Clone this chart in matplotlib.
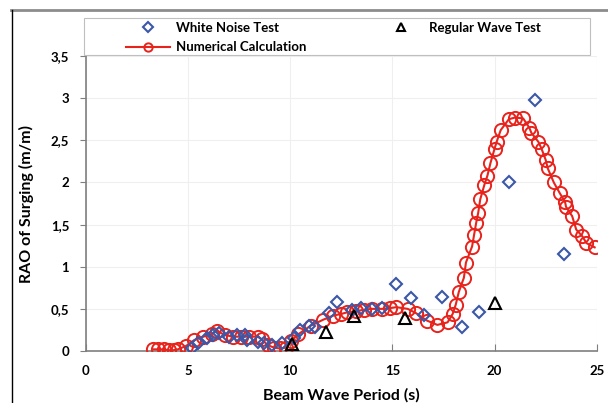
import matplotlib.pyplot as plt
from matplotlib.lines import Line2D
from matplotlib.patches import Rectangle
from matplotlib.ticker import FuncFormatter

# RAO of surging vs beam wave period
num_x = [3.3, 3.55, 3.8, 4.05, 4.3, 4.5, 4.9, 5.3, 5.75, 6.15, 6.4, 6.8, 7.2, 7.6,
         8.0, 8.4, 8.6, 8.9, 9.2, 9.5, 9.8, 10.05, 10.4, 11.0, 11.6, 12.1, 12.5,
         12.8, 13.2, 13.6, 14.0, 14.5, 14.9, 15.2, 15.75, 16.15, 16.7, 17.2, 17.7,
         17.95, 18.1, 18.25, 18.5, 18.6, 18.9, 19.0, 19.1, 19.2, 19.3, 19.5, 19.65,
         19.8, 20.0, 20.1, 20.3, 20.7, 21.0, 21.4, 21.7, 21.8, 22.15, 22.3, 22.5,
         22.6, 22.9, 23.2, 23.45, 23.5, 23.8, 24.0, 24.3, 24.5, 24.9]
num_y = [0.02, 0.02, 0.02, 0.01, 0.01, 0.02, 0.06, 0.13, 0.17, 0.20, 0.24, 0.19,
         0.17, 0.17, 0.17, 0.17, 0.14, 0.07, 0.04, 0.03, 0.04, 0.12, 0.20, 0.30,
         0.37, 0.42, 0.44, 0.46, 0.47, 0.49, 0.50, 0.50, 0.51, 0.52, 0.50, 0.45,
         0.36, 0.31, 0.34, 0.44, 0.55, 0.70, 0.87, 1.05, 1.24, 1.38, 1.52, 1.64,
         1.80, 1.97, 2.08, 2.23, 2.40, 2.48, 2.62, 2.75, 2.77, 2.76, 2.65, 2.59,
         2.48, 2.40, 2.27, 2.17, 2.00, 1.87, 1.77, 1.71, 1.60, 1.44, 1.36, 1.28,
         1.23]

wn_x = [5.2, 5.5, 5.9, 6.2, 6.5, 7.0, 7.4, 7.8, 7.9, 8.4, 8.7, 9.1, 9.6, 10.2,
        10.5, 10.9, 11.2, 11.9, 12.3, 13.0, 13.45, 14.0, 14.5, 15.2, 15.9, 16.55,
        17.45, 18.4, 19.25, 20.7, 22.0, 23.4]
wn_y = [0.03, 0.10, 0.16, 0.19, 0.21, 0.17, 0.19, 0.19, 0.13, 0.11, 0.09, 0.07,
        0.09, 0.16, 0.25, 0.30, 0.29, 0.45, 0.58, 0.49, 0.51, 0.50, 0.51, 0.80,
        0.63, 0.43, 0.64, 0.28, 0.46, 2.00, 2.98, 1.15]

rw_x = [10.1, 11.75, 13.1, 15.6, 20.0]
rw_y = [0.08, 0.23, 0.41, 0.39, 0.57]

y_ticks = [0, 0.5, 1, 1.5, 2, 2.5, 3, 3.5]
x_ticks = [0, 5, 10, 15, 20, 25]

red = '#e8231c'
blue = '#3b57a8'
plt.rcParams['font.family'] = ['Lato', 'DejaVu Sans']

W, H = 608, 403
fig = plt.figure(figsize=(W / 100, H / 100), dpi=100)
ax = fig.add_axes([0.1414, 0.129, 0.840, 0.732])

ax.plot(num_x, num_y, color=red, lw=1.5, marker='o', ms=9.5, mfc='none',
        mec=red, mew=1.4, zorder=3)
ax.plot(wn_x, wn_y, ls='none', marker='D', ms=6.5, mfc='none', mec=blue,
        mew=1.5, zorder=4)
ax.plot(rw_x, rw_y, ls='none', marker='^', ms=9, mfc='none', mec='black',
        mew=1.5, zorder=5)

ax.set_xlim(0, 25)
ax.set_ylim(0, 3.5)
ax.set_xticks(x_ticks)
ax.set_yticks(y_ticks)
ax.yaxis.set_major_formatter(FuncFormatter(lambda v, p: f'{v:g}'.replace('.', ',')))
ax.grid(True, color='#efefef', lw=0.8)
ax.set_axisbelow(True)

for s in ['top', 'right']:
    ax.spines[s].set_visible(False)
for s in ['left', 'bottom']:
    ax.spines[s].set_color('#7f7f7f')
    ax.spines[s].set_linewidth(1.2)
ax.tick_params(axis='y', direction='out', length=4, color='#7f7f7f',
               labelsize=9.5, pad=8)
ax.tick_params(axis='x', direction='in', length=5, color='#7f7f7f',
               labelsize=9.5, pad=10)
for lab in ax.get_xticklabels() + ax.get_yticklabels():
    lab.set_fontweight('bold')

ax.set_xlabel('Beam Wave Period (s)', fontsize=11.5, fontweight='bold', labelpad=8)
ax.set_ylabel('RAO of Surging (m/m)', fontsize=11.5, fontweight='bold', labelpad=12)

handles = [
    Line2D([], [], ls='none', marker='D', ms=5, mfc='none', mec=blue, mew=1.5),
    Line2D([], [], color=red, lw=1.5, marker='o', ms=6, mfc='none', mec=red, mew=1.4),
    Line2D([], [], ls='none', marker='^', ms=6, mfc='none', mec='black', mew=1.5),
]
labels = ['White Noise Test', 'Numerical Calculation', 'Regular Wave Test']
leg = fig.legend(handles, labels, ncol=2, loc='upper left',
                 bbox_to_anchor=(122 / W, 1 - 18 / H), frameon=False,
                 handlelength=3.3, handletextpad=0.5, columnspacing=5.5,
                 labelspacing=0.55, borderpad=0.3, fontsize=9.5,
                 borderaxespad=0)
for t in leg.get_texts():
    t.set_fontweight('bold')

# legend box
fig.add_artist(Rectangle((84 / W, 1 - 55 / H), 506 / W, 37 / H, fill=False,
                         edgecolor='#bfbfbf', lw=0.8, transform=fig.transFigure))

# outer border lines
fig.add_artist(Line2D([11 / W, 1], [1 - 10 / H, 1 - 10 / H],
                      color='#8c8c8c', lw=2))
fig.add_artist(Line2D([12 / W, 12 / W], [0, 1 - 10 / H],
                      color='black', lw=1))

fig.savefig('out.png', dpi=100)
